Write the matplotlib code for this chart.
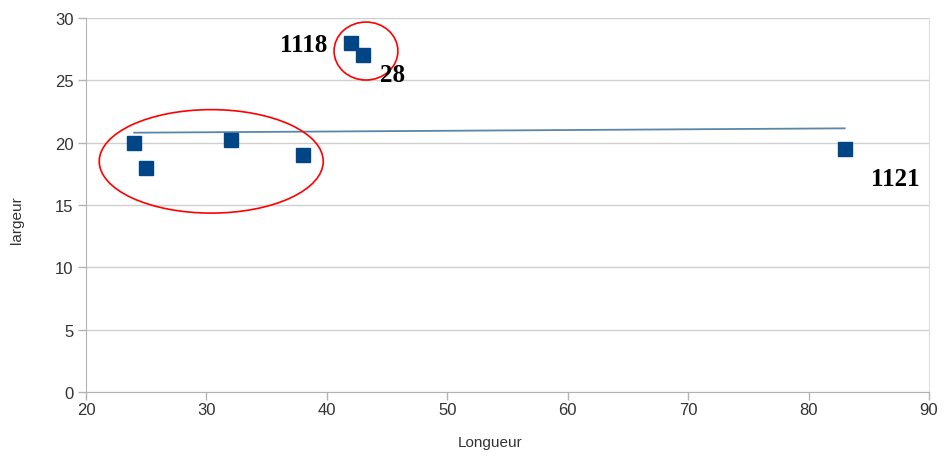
import matplotlib
matplotlib.use("Agg")
import matplotlib.pyplot as plt
from matplotlib.patches import Ellipse

# Data
longueur = [24, 25, 32, 38, 42, 43, 83]
largeur = [20.0, 18.0, 20.2, 19.0, 28.0, 27.0, 19.5]
trend_x = [24, 83]
trend_y = [20.8, 21.15]
x_ticks = [20, 30, 40, 50, 60, 70, 80, 90]
y_ticks = [0, 5, 10, 15, 20, 25, 30]
labels = ["1118", "28", "1121"]
label_pos = [(304, 45), (393, 76), (895, 180)]  # pixel positions (annotations)

fig = plt.figure(figsize=(9.44, 4.6), dpi=100)
ax = fig.add_axes([86 / 944, 1 - 393 / 460, (929 - 86) / 944, (393 - 19) / 460])

ax.set_xlim(20, 90)
ax.set_ylim(0, 30)
ax.set_xticks(x_ticks)
ax.set_yticks(y_ticks)

ax.yaxis.grid(True, color="#d0d0d0", linewidth=1.0)
ax.set_axisbelow(True)
ax.spines["top"].set_visible(False)
ax.spines["left"].set_color("#b3b3b3")
ax.spines["bottom"].set_color("#b3b3b3")
ax.spines["right"].set_color("#dddddd")
ax.tick_params(axis="both", colors="#b3b3b3", labelcolor="#333333",
               labelsize=12, length=6, width=1)
ax.tick_params(axis="y", pad=3)
ax.tick_params(axis="x", pad=1)
for t in ax.get_xticklabels() + ax.get_yticklabels():
    t.set_fontfamily("Liberation Sans")

ax.plot(trend_x, trend_y, color="#5a86a8", linewidth=1.3, zorder=2)
ax.plot(longueur, largeur, linestyle="none", marker="s", markersize=10,
        color="#004586", zorder=3)

# red annotation ellipses
ax.add_patch(Ellipse((30.4, 18.5), 18.6, 8.3, fill=False, edgecolor="red",
                     linewidth=1.2, zorder=4))
ax.add_patch(Ellipse((43.25, 27.35), 5.3, 4.65, fill=False, edgecolor="red",
                     linewidth=1.2, zorder=4))

for txt, (px, py) in zip(labels, label_pos):
    fig.text(px / 944, 1 - py / 460, txt, fontsize=18, fontweight="bold",
             family="Liberation Serif", ha="center", va="center", color="black")

ax.set_xlabel("Longueur", fontsize=11, color="#333333", family="Liberation Sans")
ax.set_ylabel("largeur", fontsize=11, color="#333333", family="Liberation Sans")
ax.xaxis.set_label_coords((490 - 86) / 843, -(436 - 393) / 374)
ax.yaxis.set_label_coords(-(86 - 24) / 843, (393 - 220) / 374)

fig.savefig("out.png", dpi=100)
